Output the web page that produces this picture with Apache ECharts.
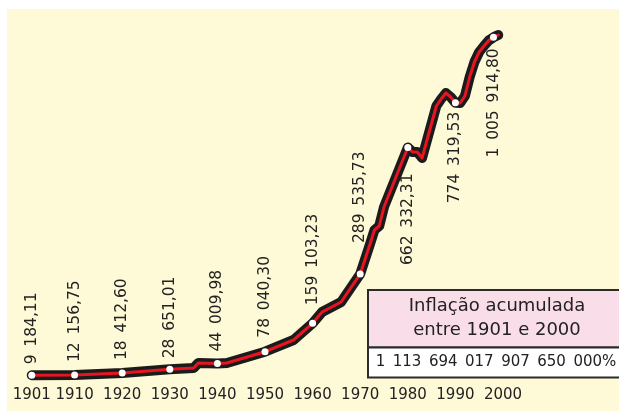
<!DOCTYPE html>
<html>
<head>
<meta charset="utf-8">
<script src="https://cdn.jsdelivr.net/npm/echarts@6/dist/echarts.min.js"></script>
<style>
  html, body { margin: 0; padding: 0; background: #ffffff; }
  #chart { width: 619px; height: 411px; }
</style>
</head>
<body>
<div id="chart"></div>
<script>
// curva de inflação acumulada (nível, eixo vertical oculto)
const years = [1901, 1910, 1920, 1930, 1935, 1936, 1940, 1942, 1950, 1956,
  1960, 1962, 1966, 1970, 1972, 1973, 1974, 1975, 1980, 1981,
  1982, 1983, 1986, 1987, 1988, 1989, 1990, 1991, 1992, 1993,
  1994, 1995, 1996, 1997, 1998, 1999];
const levels = [0.7, 1, 3, 6.7, 8, 13, 12.5, 13, 24.3, 36,
  52.7, 64, 74, 102, 131, 146, 150, 169, 228.5, 224,
  224, 218, 270, 277, 283, 279, 273.3, 273, 280, 299,
  314, 324, 330, 335.5, 338.7, 341];

// pontos marcados e seus rótulos
const markYears = [1901, 1910, 1920, 1930, 1940, 1950, 1960, 1970, 1980, 1990, 1998];
const markLabels = ["9 184,11", "12 156,75", "18 412,60", "28 651,01", "44 009,98",
  "78 040,30", "159 103,23", "289 535,73", "662 332,31", "774 319,53", "1 005 914,80"];

const tickLabels = [1901, 1910, 1920, 1930, 1940, 1950, 1960, 1970, 1980, 1990, 2000];

const boxTitle = ["Inflação acumulada", "entre 1901 e 2000"];
const boxValue = "1 113 694 017 907 650 000%";

// separador de milhar um pouco mais largo, como no original
const wide = s => s.replace(/ /g, "\u2002");

const lineData = years.map((y, i) => [y, levels[i]]);

// afastamento do rótulo em relação ao ponto (negativo = abaixo)
const labelGap = [11, 13, 13, 11, 12, 14, 18, 31, -26, -9, -11];

const markData = markYears.map((y, i) => {
  const gap = labelGap[i];
  const below = gap < 0;
  return {
    value: [y, levels[years.indexOf(y)]],
    label: {
      position: below ? "bottom" : "top",
      distance: Math.abs(gap) - 3.5,
      align: below ? "right" : "left",
      verticalAlign: "middle",
      formatter: wide(markLabels[i])
    }
  };
});

const chart = echarts.init(document.getElementById("chart"));
const font = "DejaVu Sans";

chart.setOption({
  animation: false,
  backgroundColor: "#ffffff",
  grid: { left: 27, right: 116, top: 26, bottom: 35 },
  xAxis: {
    type: "value",
    min: 1900,
    max: 2000,
    axisLine: { show: false },
    axisTick: { show: false },
    splitLine: { show: false },
    axisLabel: {
      customValues: tickLabels,
      formatter: v => String(v),
      color: "#222",
      fontFamily: font,
      fontSize: 15,
      margin: 12
    }
  },
  yAxis: { type: "value", min: 0, max: 350, show: false },
  graphic: [
    {
      type: "rect", z: -10, silent: true,
      shape: { x: 7, y: 9, width: 620, height: 410 },
      style: { fill: "#fef9d6" }
    },
    {
      type: "rect", z: 10,
      shape: { x: 368, y: 290, width: 260, height: 57.5 },
      style: { fill: "#f9dee9", stroke: "#2b2b2b", lineWidth: 2 }
    },
    {
      type: "rect", z: 10,
      shape: { x: 368, y: 347.5, width: 260, height: 30 },
      style: { fill: "#ffffff", stroke: "#2b2b2b", lineWidth: 2 }
    },
    {
      type: "text", z: 11,
      x: 497, y: 318,
      style: {
        text: boxTitle.join("\n"),
        fill: "#222", font: "18px " + font, lineHeight: 24,
        align: "center", verticalAlign: "middle"
      }
    },
    {
      type: "text", z: 11,
      x: 496, y: 362,
      style: {
        text: wide(boxValue),
        fill: "#222", font: "15px " + font,
        align: "center", verticalAlign: "middle"
      }
    }
  ],
  series: [
    {
      type: "line",
      data: lineData,
      showSymbol: false,
      silent: true,
      z: 2,
      lineStyle: { color: "#1b1b1b", width: 10, cap: "round", join: "round" }
    },
    {
      type: "line",
      data: lineData,
      showSymbol: false,
      silent: true,
      z: 3,
      lineStyle: { color: "#e8141f", width: 3, cap: "round", join: "round" }
    },
    {
      type: "scatter",
      data: markData,
      symbol: "circle",
      symbolSize: 7,
      z: 8,
      itemStyle: { color: "#ffffff", opacity: 1 },
      label: {
        show: true,
        rotate: 90,
        color: "#222",
        fontFamily: font,
        fontSize: 15.5
      }
    }
  ]
});
</script>
</body>
</html>
